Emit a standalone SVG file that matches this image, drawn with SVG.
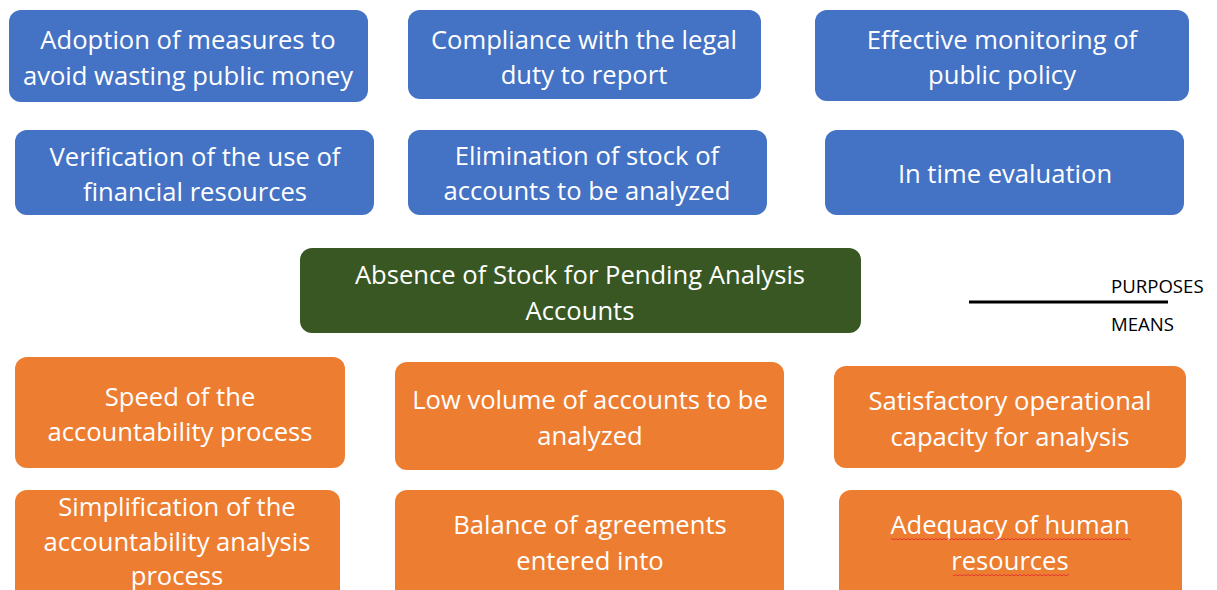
<svg xmlns="http://www.w3.org/2000/svg" width="1217" height="590" viewBox="0 0 1217 590">
<style>
.b{fill:#4472C4}
.g{fill:#385723}
.o{fill:#ED7D31}
.t{font-family:"Open Sans",Lato,sans-serif;font-size:25.6px;fill:#fff;text-anchor:middle}
.l{font-family:"Open Sans",Lato,sans-serif;font-size:18.6px;fill:#000}
</style>
<defs>
<pattern id="zz" x="0" y="0" width="4" height="2" patternUnits="userSpaceOnUse"><path d="M0 0.5 L2 1.8 L4 0.5" fill="none" stroke="#E03030" stroke-width="0.9"/></pattern>
</defs>
<rect width="1217" height="590" fill="#fff"/>
<g id="n1"><rect class="b" x="9" y="10" width="359" height="92" rx="12"/><text class="t" x="188" y="49">Adoption of measures to</text><text class="t" x="188" y="85">avoid wasting public money</text></g>
<g id="n2"><rect class="b" x="408" y="10" width="353" height="89" rx="12"/><text class="t" x="584" y="49">Compliance with the legal</text><text class="t" x="584" y="84">duty to report</text></g>
<g id="n3"><rect class="b" x="815" y="10" width="374" height="91" rx="12"/><text class="t" x="1002" y="49">Effective monitoring of</text><text class="t" x="1002" y="84">public policy</text></g>
<g id="n4"><rect class="b" x="15" y="130" width="359" height="85" rx="12"/><text class="t" x="195" y="166">Verification of the use of</text><text class="t" x="195" y="201">financial resources</text></g>
<g id="n5"><rect class="b" x="408" y="130" width="359" height="85" rx="12"/><text class="t" x="587" y="165">Elimination of stock of</text><text class="t" x="587" y="200">accounts to be analyzed</text></g>
<g id="n6"><rect class="b" x="825" y="130" width="359" height="85" rx="12"/><text class="t" x="1005" y="183">In time evaluation</text></g>
<g id="n7"><rect class="g" x="300" y="248" width="561" height="85" rx="12"/><text class="t" x="580" y="284">Absence of Stock for Pending Analysis</text><text class="t" x="580" y="320">Accounts</text></g>
<g id="legend"><line x1="969" y1="302" x2="1168" y2="302" stroke="#000" stroke-width="3"/><text class="l" x="1111" y="293">PURPOSES</text><text class="l" x="1111" y="331">MEANS</text></g>
<g id="n8"><rect class="o" x="15" y="357" width="330" height="111" rx="12"/><text class="t" x="180" y="406">Speed of the</text><text class="t" x="180" y="441">accountability process</text></g>
<g id="n9"><rect class="o" x="395" y="362" width="389" height="108" rx="12"/><text class="t" x="590" y="409">Low volume of accounts to be</text><text class="t" x="590" y="445">analyzed</text></g>
<g id="n10"><rect class="o" x="834" y="366" width="352" height="102" rx="12"/><text class="t" x="1010" y="410">Satisfactory operational</text><text class="t" x="1010" y="446">capacity for analysis</text></g>
<g id="n11"><rect class="o" x="15" y="490" width="325" height="112" rx="12"/><text class="t" x="177" y="516">Simplification of the</text><text class="t" x="177" y="551">accountability analysis</text><text class="t" x="177" y="585">process</text></g>
<g id="n12"><rect class="o" x="395" y="490" width="389" height="112" rx="12"/><text class="t" x="590" y="534">Balance of agreements</text><text class="t" x="590" y="570">entered into</text><line x1="517" y1="574" x2="664" y2="574" stroke="#8a9a60" stroke-width="1" stroke-dasharray="1 1"/></g>
<g id="n13"><rect class="o" x="839" y="490" width="343" height="112" rx="12"/><text class="t" x="1010" y="534">Adequacy of human</text><text class="t" x="1010" y="570">resources</text><rect x="891" y="538" width="240" height="2" fill="url(#zz)"/><rect x="953" y="574" width="116" height="2" fill="url(#zz)"/></g>
</svg>
